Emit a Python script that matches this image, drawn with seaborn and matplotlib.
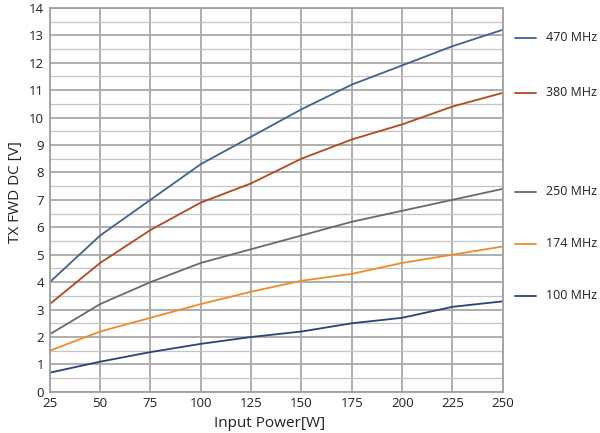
import seaborn as sns
import matplotlib.pyplot as plt
import pandas as pd

# input power sweep and forward DC voltage per frequency
power = [25, 50, 75, 100, 125, 150, 175, 200, 225, 250]
v_470 = [4.0, 5.7, 7.0, 8.3, 9.3, 10.3, 11.2, 11.9, 12.6, 13.2]
v_380 = [3.2, 4.7, 5.9, 6.9, 7.6, 8.5, 9.2, 9.75, 10.4, 10.9]
v_250 = [2.1, 3.2, 4.0, 4.7, 5.2, 5.7, 6.2, 6.6, 7.0, 7.4]
v_174 = [1.5, 2.2, 2.7, 3.2, 3.65, 4.05, 4.3, 4.7, 5.0, 5.3]
v_100 = [0.7, 1.1, 1.45, 1.75, 2.0, 2.2, 2.5, 2.7, 3.1, 3.3]
freqs = ['470 MHz', '380 MHz', '250 MHz', '174 MHz', '100 MHz']
label_y = [12.9, 10.9, 7.3, 5.4, 3.5]

colors = ['#3f6290', '#b4481e', '#6a6a6a', '#f28a28', '#2c4177']

df = pd.DataFrame({'power': power, '470 MHz': v_470, '380 MHz': v_380,
                   '250 MHz': v_250, '174 MHz': v_174, '100 MHz': v_100})
long_df = df.melt(id_vars='power', var_name='freq', value_name='volt')

sns.set_style('white')
plt.rcParams['font.family'] = ['Open Sans', 'DejaVu Sans']

fig = plt.figure(figsize=(6, 4.33), dpi=100)
ax = fig.add_axes([0.083, 0.095, 0.755, 0.887])

sns.lineplot(data=long_df, x='power', y='volt', hue='freq', hue_order=freqs,
             palette=colors, linewidth=1.3, legend=False, ax=ax)

ax.set_xlim(25, 250)
ax.set_ylim(0, 14)
ax.set_xticks(power)
ax.set_yticks(range(0, 15))
ax.set_yticks([i + 0.5 for i in range(14)], minor=True)
ax.grid(which='major', color='#a8a8a8', linewidth=1.3)
ax.grid(which='minor', axis='y', color='#c4c4c4', linewidth=0.9)
ax.set_axisbelow(True)
for s in ax.spines.values():
    s.set_color('#a0a0a0')
    s.set_linewidth(1.3)
ax.tick_params(labelsize=9.5, colors='#222222', length=0, pad=4)
ax.tick_params(which='minor', length=0)
ax.set_xlabel('Input Power[W]', fontsize=11, color='#222222')
ax.set_ylabel('TX FWD DC [V]', fontsize=11, color='#222222')
ax.xaxis.set_label_coords(0.486, -0.062)
ax.yaxis.set_label_coords(-0.06, 0.52)

# labels on the right side
for name, c, y in zip(freqs, colors, label_y):
    ax.plot([1.028, 1.073], [y, y], color=c, linewidth=1.3,
            transform=ax.get_yaxis_transform(), clip_on=False)
    ax.text(1.095, y, name, color='#222222', fontsize=9, va='center',
            transform=ax.get_yaxis_transform())

fig.savefig('out.png', dpi=100)
